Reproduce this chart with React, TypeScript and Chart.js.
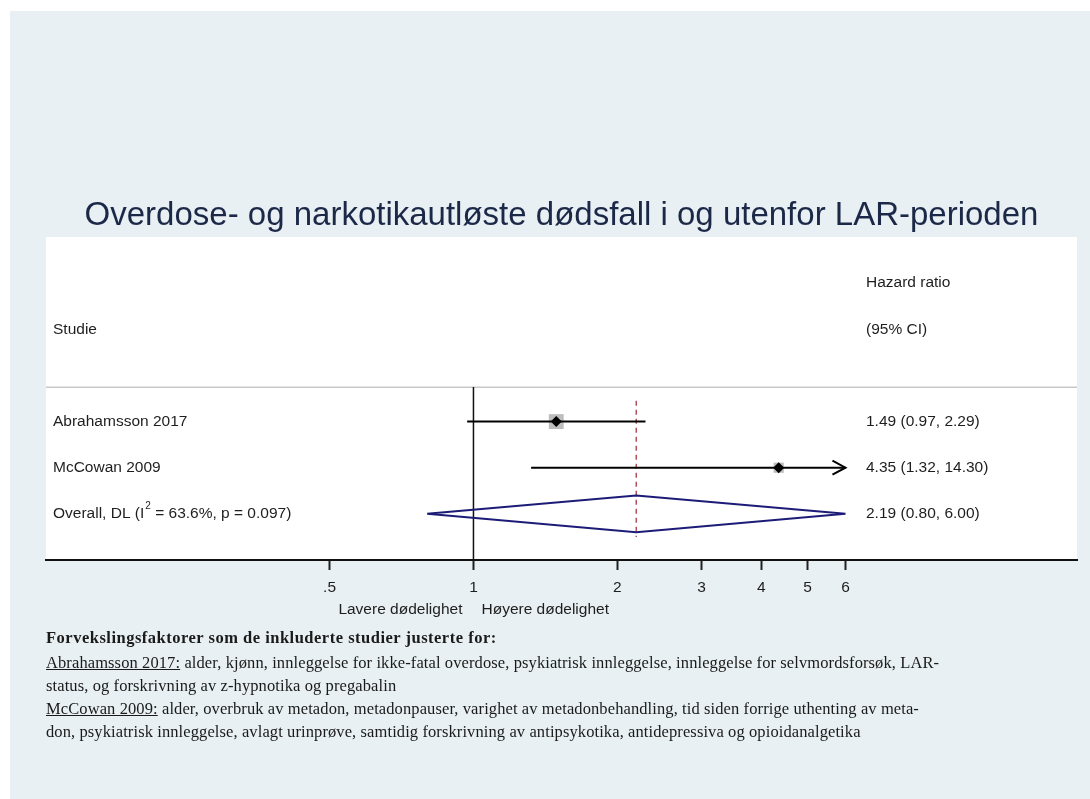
import React, { useEffect, useRef } from 'react';
import { Chart, registerables } from 'chart.js';

Chart.register(...registerables);

// ---------- data ----------
const TITLE = 'Overdose- og narkotikautløste dødsfall i og utenfor LAR-perioden';
const studies = ['Abrahamsson 2017', 'McCowan 2009'];
const hazardRatios = [1.49, 4.35];
const ciLower = [0.97, 1.32];
const ciUpper = [2.29, 14.3];
const studyEstimateLabels = ['1.49 (0.97, 2.29)', '4.35 (1.32, 14.30)'];
const overallEstimate = 2.19;
const overallLower = 0.8;
const overallUpper = 6.0;
const overallEstimateLabel = '2.19 (0.80, 6.00)';
const overallLabelParts = ['Overall, DL (I', '2', ' = 63.6%, p = 0.097)'];
const headerLeft = 'Studie';
const headerRight = ['Hazard ratio', '(95% CI)'];
const xTickValues = [0.5, 1, 2, 3, 4, 5, 6];
const xTickLabels = ['.5', '1', '2', '3', '4', '5', '6'];
const directionLabels = ['Lavere dødelighet', 'Høyere dødelighet'];
const footnoteHeading = 'Forvekslingsfaktorer som de inkluderte studier justerte for:';
const footnoteStudies = ['Abrahamsson 2017:', 'McCowan 2009:'];
const footnoteLines = [
  [' alder, kjønn, innleggelse for ikke-fatal overdose, psykiatrisk innleggelse, innleggelse for selvmordsforsøk, LAR-', 'status, og forskrivning av z-hypnotika og pregabalin'],
  [' alder, overbruk av metadon, metadonpauser, varighet av metadonbehandling, tid siden forrige uthenting av meta-', 'don, psykiatrisk innleggelse, avlagt urinprøve, samtidig forskrivning av antipsykotika, antidepressiva og opioidanalgetika'],
];

// ---------- scale settings ----------
const X_MIN = 0.1276;
const X_MAX = 18.3;
const Y_MIN = -4;
const Y_MAX = 3;
const ROW_OVERALL = studies.length;
const SEPARATOR_ROW = -0.75;
const X_CLIP = xTickValues[xTickValues.length - 1];

const FONT = "'Liberation Sans', Arial, sans-serif";
const TEXT_COLOR = '#1e1e1e';
const NAVY = '#1c1c78';

const forestPlugin = {
  id: 'forestPlugin',
  beforeDraw(chart: any) {
    const { ctx, chartArea } = chart;
    ctx.save();
    ctx.fillStyle = '#ffffff';
    ctx.fillRect(chartArea.left, chartArea.top, chartArea.right - chartArea.left, chartArea.bottom - chartArea.top);
    ctx.restore();
  },
  beforeDatasetsDraw(chart: any) {
    const { ctx, chartArea, scales } = chart;
    const y = scales.y;
    ctx.save();
    ctx.strokeStyle = '#c8c8c8';
    ctx.lineWidth = 1.5;
    const ys = Math.round(y.getPixelForValue(SEPARATOR_ROW)) + 0.25;
    ctx.beginPath();
    ctx.moveTo(chartArea.left, ys);
    ctx.lineTo(chartArea.right, ys);
    ctx.stroke();
    ctx.restore();
  },
  afterDatasetsDraw(chart: any) {
    const { ctx, scales } = chart;
    const { x, y } = scales;
    ctx.save();
    ctx.strokeStyle = '#000000';
    ctx.lineWidth = 2;
    studies.forEach((_, i) => {
      if (ciUpper[i] > X_CLIP) {
        const px = x.getPixelForValue(X_CLIP);
        const py = y.getPixelForValue(i);
        ctx.beginPath();
        ctx.moveTo(px - 13, py - 7);
        ctx.lineTo(px, py);
        ctx.lineTo(px - 13, py + 7);
        ctx.stroke();
      }
    });
    ctx.restore();
  },
  afterDraw(chart: any) {
    const { ctx, chartArea, scales } = chart;
    const { x, y } = scales;
    const leftX = chartArea.left + 7;
    const rightX = chartArea.left + 820;
    ctx.save();
    ctx.fillStyle = TEXT_COLOR;
    ctx.font = `15.5px ${FONT}`;
    ctx.textBaseline = 'middle';
    ctx.textAlign = 'left';
    ctx.fillText(headerLeft, leftX, y.getPixelForValue(-2));
    ctx.fillText(headerRight[0], rightX, y.getPixelForValue(-3));
    ctx.fillText(headerRight[1], rightX, y.getPixelForValue(-2));
    studies.forEach((s, i) => {
      ctx.fillText(s, leftX, y.getPixelForValue(i));
      ctx.fillText(studyEstimateLabels[i], rightX, y.getPixelForValue(i));
    });
    const oy = y.getPixelForValue(ROW_OVERALL);
    ctx.fillText(overallLabelParts[0], leftX, oy);
    const w = ctx.measureText(overallLabelParts[0]).width;
    ctx.font = `10px ${FONT}`;
    ctx.fillText(overallLabelParts[1], leftX + w + 1, oy - 8);
    const w2 = ctx.measureText(overallLabelParts[1]).width;
    ctx.font = `15.5px ${FONT}`;
    ctx.fillText(overallLabelParts[2], leftX + w + w2 + 1, oy);
    ctx.fillText(overallEstimateLabel, rightX, oy);

    // direction labels under the axis
    const x1 = x.getPixelForValue(1);
    const dy = chartArea.bottom + 50;
    ctx.textAlign = 'right';
    ctx.fillText(directionLabels[0], x1 - 11, dy);
    ctx.textAlign = 'left';
    ctx.fillText(directionLabels[1], x1 + 8, dy);
    ctx.restore();
  },
};

export default function App() {
  const canvasRef = useRef<HTMLCanvasElement | null>(null);

  useEffect(() => {
    if (!canvasRef.current) return;
    Chart.defaults.font.family = FONT;

    const lineDs = (data: any[], color: string, width: number, order: number, dash: number[] = []) => ({
      type: 'scatter' as const,
      data,
      showLine: true,
      borderColor: color,
      borderWidth: width,
      borderDash: dash,
      pointRadius: 0,
      pointHoverRadius: 0,
      fill: false,
      tension: 0,
      order,
    });

    const datasets: any[] = [
      lineDs([{ x: 1, y: SEPARATOR_ROW }, { x: 1, y: Y_MAX }], '#111111', 1.5, 6),
      lineDs([{ x: overallEstimate, y: -0.45 }, { x: overallEstimate, y: 2.5 }], '#a23a42', 1.3, 5, [5, 4]),
      lineDs(
        [
          { x: overallLower, y: ROW_OVERALL },
          { x: overallEstimate, y: ROW_OVERALL - 0.4 },
          { x: overallUpper, y: ROW_OVERALL },
          { x: overallEstimate, y: ROW_OVERALL + 0.4 },
          { x: overallLower, y: ROW_OVERALL },
        ],
        NAVY,
        2,
        4
      ),
      {
        type: 'scatter',
        data: studies.map((_, i) => ({ x: hazardRatios[i], y: i })),
        pointStyle: 'rect',
        pointRadius: [10.5, 7.2],
        backgroundColor: '#bdbdbd',
        borderWidth: 0,
        order: 3,
      },
      ...studies.map((_, i) =>
        lineDs([{ x: ciLower[i], y: i }, { x: Math.min(ciUpper[i], X_CLIP), y: i }], '#000000', 2, 2)
      ),
      {
        type: 'scatter',
        data: studies.map((_, i) => ({ x: hazardRatios[i], y: i })),
        pointStyle: 'rectRot',
        pointRadius: 5.5,
        backgroundColor: '#000000',
        borderColor: '#000000',
        borderWidth: 0,
        order: 0,
      },
    ];

    const chart = new Chart(canvasRef.current, {
      type: 'scatter',
      data: { datasets },
      plugins: [forestPlugin],
      options: {
        animation: false,
        responsive: false,
        maintainAspectRatio: false,
        events: [],
        layout: { padding: { top: 196, left: 46, right: 13, bottom: 0 } },
        plugins: {
          legend: { display: false },
          tooltip: { enabled: false },
          title: {
            display: true,
            text: TITLE,
            color: '#1c2848',
            font: { family: FONT, size: 33, weight: 'normal', lineHeight: 1.2 },
            padding: { top: 0, bottom: 1.4 },
          },
        },
        scales: {
          x: {
            type: 'logarithmic',
            min: X_MIN,
            max: X_MAX,
            afterBuildTicks: (scale: any) => {
              scale.ticks = xTickValues.map((v) => ({ value: v }));
            },
            afterFit: (scale: any) => {
              scale.height = 70;
            },
            ticks: {
              autoSkip: false,
              maxRotation: 0,
              padding: 8,
              color: TEXT_COLOR,
              font: { family: FONT, size: 15.5 },
              callback: (_v: any, index: number) => xTickLabels[index],
            },
            grid: {
              display: true,
              drawOnChartArea: false,
              drawTicks: true,
              tickLength: 10,
              tickWidth: 2,
              tickColor: '#222222',
            },
            border: { display: true, color: '#111111', width: 2 },
          },
          y: {
            type: 'linear',
            min: Y_MIN,
            max: Y_MAX,
            reverse: true,
            display: false,
          },
        },
      } as any,
    });
    return () => chart.destroy();
  }, []);

  const serif = "'Liberation Serif', 'Times New Roman', serif";
  const lineStyle: React.CSSProperties = { height: 23, lineHeight: '23px', whiteSpace: 'nowrap' };

  return (
    <div style={{ position: 'absolute', left: 0, top: 0, width: 1090, height: 799, background: '#ffffff', overflow: 'hidden' }}>
      <div style={{ position: 'absolute', left: 10, top: 11, width: 1080, height: 788, background: '#e8f0f3' }} />
      <canvas
        ref={canvasRef}
        width={1090}
        height={630}
        style={{ position: 'absolute', left: 0, top: 0, width: 1090, height: 630 }}
      />
      <div
        style={{
          position: 'absolute',
          left: 46,
          top: 626,
          fontFamily: serif,
          fontSize: 16.5,
          letterSpacing: '0.1px',
          color: '#1a1a1a',
        }}
      >
        <div style={{ ...lineStyle, fontWeight: 'bold', height: 25, letterSpacing: '0.5px' }}>{footnoteHeading}</div>
        {footnoteStudies.map((s, i) => (
          <React.Fragment key={s}>
            <div style={lineStyle}>
              <span style={{ textDecoration: 'underline' }}>{s}</span>
              {footnoteLines[i][0]}
            </div>
            <div style={lineStyle}>{footnoteLines[i][1]}</div>
          </React.Fragment>
        ))}
      </div>
    </div>
  );
}
